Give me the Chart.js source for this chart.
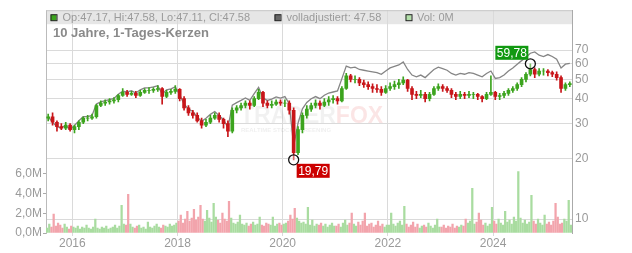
<!DOCTYPE html>
<html>
<head>
<meta charset="utf-8">
<script src="https://cdn.jsdelivr.net/npm/chart.js@4.4.1/dist/chart.umd.min.js"></script>
<style>
  html, body { margin: 0; padding: 0; background: #fff; }
  #wrap { width: 632px; height: 253px; }
</style>
</head>
<body>
<div id="wrap"><canvas id="chart" width="632" height="253"></canvas></div>
<script>
// monthly candles, Jul 2015 - Jun 2025
const startYear = 2015, startMonth = 7;
const opens = [
  32, 32.5, 30.5, 29, 28.5, 29.5,
  28, 29, 30.5, 32, 32, 32.5, 37, 38, 38.5, 39, 39.5, 41.5,
  43, 42, 42.5, 41.5, 43, 44, 44, 44.5, 45, 41, 43, 43.5,
  44.5, 40, 36, 34, 33, 31, 29.5, 30.5, 32, 33, 31.5, 30,
  27.5, 35, 36, 37, 38, 37, 40, 43, 38, 37, 37.5, 38.5,
  38, 38, 35, 21.5, 28, 33, 35.5, 37, 38, 37, 38.5, 39.5,
  40, 39, 45, 52, 50, 50, 48, 47, 46, 45, 44.5, 43,
  45, 46, 47, 48, 49.5, 45, 42, 41.5, 42, 40, 42, 45,
  46, 45, 44, 42, 41, 42, 41.5, 42, 42, 41, 40, 42,
  43, 41, 41.5, 42.5, 44, 45, 47, 50, 53, 56, 53, 55,
  55, 54, 53, 51, 45, 47
];
const highs = [
  33.5, 34, 31, 30, 30.5, 30,
  29.5, 31, 32.5, 33, 33.5, 37.5, 39, 39.5, 40, 40.5, 42, 45,
  44, 43.5, 43.5, 44, 45, 45.5, 45.5, 46.5, 45.5, 44, 44.5, 46.5,
  45, 41, 37, 35, 34, 32, 31.5, 33, 34, 34, 32, 31,
  36, 37, 38, 39, 39, 41, 44.5, 43.5, 39, 39, 39.5, 39.5,
  39.5, 39, 36, 29, 34, 37, 38, 39.5, 39, 40, 41, 41.5,
  41, 46, 53.5, 53, 52, 51, 49.5, 48.5, 47.5, 47, 46, 46.5,
  48, 49, 50, 51.5, 50, 46, 43.5, 44, 43, 43, 46, 47.5,
  47, 46, 45, 43, 43.5, 43, 43.5, 43, 42.5, 41.5, 43, 52,
  43.5, 42.5, 43.5, 45, 46, 48, 51, 54, 59.78, 57, 56.5, 56.5,
  56, 55, 54.5, 52, 48, 48.5
];
const lows = [
  31, 29.5, 27.5, 28, 28, 27.5,
  27, 28, 30, 31, 31.5, 32, 36.5, 37, 37.5, 38, 38.5, 41,
  41, 41.5, 40.5, 41, 42.5, 42.5, 43, 43.5, 37.5, 40.5, 42, 42.5,
  39, 35, 33, 32, 30.5, 28.5, 29, 30, 31.5, 30.5, 28.5, 25.8,
  27, 34, 35, 36, 35.5, 36.5, 39.5, 36.5, 36, 36, 37, 37,
  36.5, 33.5, 19.79, 21, 27, 32, 34.5, 36, 35.5, 36.5, 37, 38,
  37.5, 38.5, 44.5, 48.5, 48, 46.5, 45.5, 44.5, 43, 43, 41.5, 42.5,
  44, 44.5, 45, 47, 43.5, 39.5, 40, 40.5, 38.5, 39, 41.5, 44,
  43.5, 43, 40.5, 39.5, 40, 40, 40.5, 40, 39.5, 38.5, 39.5, 41.5,
  39.5, 39.5, 40.5, 41.5, 43, 44, 46, 48.5, 52, 51, 52, 52.5,
  52, 51.5, 49.5, 43, 44, 46
];
const closes = [
  32.5, 30.5, 29, 28.5, 29.5, 28,
  29, 30.5, 32, 32, 32.5, 37, 38, 38.5, 39, 39.5, 41.5, 43,
  42, 42.5, 41.5, 43, 44, 44, 44.5, 45, 41, 43, 43.5, 44.5,
  40, 36, 34, 33, 31, 29.5, 30.5, 32, 33, 31.5, 30, 27.5,
  35, 36, 37, 38, 37, 40, 43, 38, 37, 37.5, 38.5, 38,
  38, 35, 21.5, 28, 33, 35.5, 37, 38, 37, 38.5, 39.5, 40,
  39, 45, 52, 50, 50, 48, 47, 46, 45, 44.5, 43, 45,
  46, 47, 48, 49.5, 45, 42, 41.5, 42, 40, 42, 45, 46,
  45, 44, 42, 41, 42, 41.5, 42, 42, 41, 40, 42, 43,
  41, 41.5, 42.5, 44, 45, 47, 50, 53, 56, 53, 55, 55,
  54, 53, 51, 45, 47, 47.58
];
const adjusted = [
  32.5, 30.5, 29, 28.5, 29.5, 28,
  29.4, 31.0, 32.5, 32.5, 33.0, 37.6, 38.6, 39.1, 39.6, 40.1, 42.1, 43.6,
  43.3, 43.8, 42.7, 44.3, 45.3, 45.3, 45.8, 46.4, 42.2, 44.3, 44.8, 45.8,
  41.8, 37.6, 35.5, 34.5, 32.4, 30.8, 31.9, 33.4, 34.5, 32.9, 31.4, 28.7,
  37.1, 38.2, 39.2, 40.3, 39.2, 42.4, 45.6, 40.3, 39.2, 39.8, 40.8, 40.3,
  41.0, 37.8, 23.2, 30.2, 35.6, 38.3, 40.0, 41.0, 40.0, 41.6, 42.7, 43.2,
  43.7, 50.4, 58.2, 57.0, 57.5, 56.0, 55.5, 55.0, 54.5, 54.0, 53.0, 55.0,
  57.0, 58.0, 59.0, 61.0, 56.0, 52.5, 51.5, 52.5, 51.0, 53.5, 56.0, 57.5,
  56.5, 55.5, 53.5, 52.5, 53.5, 53.0, 54.0, 53.5, 52.5, 51.5, 53.5, 55.0,
  50.5, 51.0, 52.5, 55.0, 57.0, 59.5, 62.0, 64.5, 67.5, 68.5, 66.0, 65.0,
  66.5, 65.0, 63.0, 57.0, 59.5, 60.0
];
// volume in millions, two values per month
const volumes = [
  0.5, 0.9, 0.6, 1.9, 0.7, 1.0, 0.8, 0.5, 0.9, 0.6, 0.4, 0.7,
  0.6, 0.5, 0.7, 0.4, 0.6, 0.5, 0.8, 0.5, 0.4, 0.6, 1.4, 0.5, 0.4, 0.6, 0.5, 0.7, 0.4, 0.5, 0.6, 0.8, 0.5, 0.7, 2.8, 0.9,
  0.8, 3.9, 0.9, 0.6, 0.5, 0.7, 0.8, 0.5, 0.6, 0.4, 1.1, 0.6, 0.5, 0.7, 0.9, 0.6, 0.5, 0.8, 0.7, 0.6, 0.9, 0.7, 0.8, 1.0,
  1.2, 1.8, 1.0, 1.4, 2.2, 1.2, 1.5, 2.4, 1.3, 1.6, 2.8, 1.4, 1.2, 2.3, 1.5, 1.1, 3.0, 1.6, 1.3, 1.0, 2.0, 1.4, 1.2, 3.2,
  1.5, 1.0, 0.9, 1.1, 1.8, 0.9, 0.8, 1.0, 0.7, 0.9, 1.1, 0.8, 0.9, 1.6, 0.8, 0.7, 1.0, 0.9, 0.8, 1.6, 0.7, 0.9, 1.0, 0.8,
  0.9, 1.0, 1.2, 1.8, 1.4, 2.5, 1.5, 1.2, 1.0, 1.1, 0.9, 2.6, 0.8, 1.3, 0.7, 0.9, 0.8, 1.0, 0.7, 0.9, 0.6, 0.8, 1.0, 0.7,
  0.7, 0.9, 0.6, 1.0, 1.3, 0.8, 1.0, 2.0, 0.9, 0.7, 1.1, 0.8, 1.2, 2.0, 0.7, 0.9, 1.0, 0.6, 0.8, 1.2, 0.7, 0.9, 0.6, 0.8,
  0.8, 2.0, 0.9, 0.7, 1.0, 1.2, 0.8, 2.7, 0.9, 0.6, 0.8, 1.1, 0.6, 0.9, 0.5, 0.7, 0.8, 0.6, 1.0, 0.7, 0.5, 0.8, 1.4, 0.6,
  0.6, 0.8, 0.5, 0.7, 0.6, 0.9, 0.5, 0.7, 0.6, 0.8, 0.7, 1.4, 1.0, 1.2, 4.5, 0.9, 1.1, 2.0, 1.3, 0.8, 1.0, 0.7, 0.9, 2.6,
  1.2, 0.9, 1.4, 1.0, 0.8, 2.2, 1.1, 1.3, 0.9, 1.6, 1.2, 6.2, 1.5, 1.0, 1.3, 0.9, 1.1, 3.8, 1.2, 0.9, 1.4, 1.0, 0.8, 1.8,
  0.9, 1.1, 0.8, 1.2, 3.0, 1.6, 0.9, 1.0, 1.4, 1.2, 3.3, 0.8
];
const yearTicks = [2016, 2018, 2020, 2022, 2024];
const priceTicks = [10, 20, 30, 40, 50, 60, 70];
const volTicks = [0, 2, 4, 6];
const lastDay = { op: 47.17, hi: 47.58, lo: 47.11, cl: 47.58 };
const lastAdjusted = 47.58;
const lastVol = 0;

const GREEN = '#3ca41e', RED = '#c8161a';
const VOL_GREEN = '#a9dca0', VOL_RED = '#f2a4ac';
const FONT = '"Liberation Sans", Arial, sans-serif';

const monthX = i => startYear + (startMonth - 1 + i + 0.5) / 12;
const halfX = j => startYear + (startMonth - 1) / 12 + (j + 0.5) / 24;
const up = closes.map((c, i) => c >= opens[i]);

const wickData = closes.map((c, i) => ({ x: monthX(i), y: [lows[i], highs[i]] }));
const bodyData = closes.map((c, i) => ({ x: monthX(i), y: [opens[i], c] }));
const adjData = adjusted.map((v, i) => ({ x: monthX(i), y: v }));
const volData = volumes.map((v, j) => ({ x: halfX(j), y: v }));
const candleColors = up.map(u => u ? GREEN : RED);
const volColors = volumes.map((v, j) => up[Math.floor(j / 2)] ? VOL_GREEN : VOL_RED);

const minIdx = lows.indexOf(Math.min(...lows));
const maxIdx = highs.indexOf(Math.max(...highs));
const extremes = [
  { x: monthX(minIdx), y: lows[minIdx] },
  { x: monthX(maxIdx), y: highs[maxIdx] }
];

const fmt = v => v.toFixed(2).replace('.', ',');

const decor = {
  id: 'decor',
  beforeDraw(chart) {
    const { ctx, chartArea: a } = chart;
    ctx.save();
    ctx.fillStyle = '#e6e6e6';
    ctx.fillRect(a.left, a.top, a.right - a.left, 14);
    ctx.restore();
  },
  beforeDatasetsDraw(chart) {
    const { ctx } = chart;
    ctx.save();
    ctx.textBaseline = 'alphabetic';
    ctx.font = 'bold 23px ' + FONT;
    ctx.fillStyle = 'rgba(0,0,0,0.055)';
    ctx.fillText('TRADER', 240, 123);
    const w = ctx.measureText('TRADER').width;
    ctx.fillStyle = 'rgba(220,40,40,0.12)';
    ctx.fillText('FOX', 240 + w, 123);
    ctx.font = 'bold 6px ' + FONT;
    ctx.fillStyle = 'rgba(0,0,0,0.07)';
    ctx.fillText('REALTIME STOCK SCREENING', 241, 132);
    ctx.restore();
  },
  afterDraw(chart) {
    const { ctx, chartArea: a, scales } = chart;
    ctx.save();
    // top frame line
    ctx.strokeStyle = '#c8c8c8';
    ctx.lineWidth = 1;
    ctx.beginPath();
    ctx.moveTo(a.left, a.top + 0.5);
    ctx.lineTo(a.right, a.top + 0.5);
    ctx.stroke();

    // legend row
    const sq = (x, fill) => {
      ctx.fillStyle = fill;
      ctx.fillRect(x, a.top + 4.5, 6, 6);
      ctx.strokeStyle = '#222';
      ctx.strokeRect(x + 0.5, a.top + 4.5, 6, 6);
    };
    ctx.font = '11px ' + FONT;
    ctx.textBaseline = 'middle';
    ctx.fillStyle = '#9a9a9a';
    sq(50.5, GREEN);
    ctx.fillStyle = '#9a9a9a';
    ctx.fillText('Op:' + lastDay.op.toFixed(2) + ', Hi:' + lastDay.hi.toFixed(2) +
      ', Lo:' + lastDay.lo.toFixed(2) + ', Cl:' + lastDay.cl.toFixed(2), 62.5, a.top + 8);
    sq(274.5, '#666');
    ctx.fillStyle = '#9a9a9a';
    ctx.fillText('volladjustiert: ' + lastAdjusted.toFixed(2), 286.5, a.top + 8);
    sq(405.5, '#b3e0aa');
    ctx.fillStyle = '#9a9a9a';
    ctx.fillText('Vol: ' + lastVol + 'M', 417, a.top + 8);

    // title
    ctx.font = 'bold 13px ' + FONT;
    ctx.fillStyle = '#8a8a8a';
    ctx.textBaseline = 'alphabetic';
    ctx.fillText('10 Jahre, 1-Tages-Kerzen', 53, 37);

    // extreme value tags
    ctx.font = '12px ' + FONT;
    ctx.textBaseline = 'middle';
    ctx.textAlign = 'center';
    const lo = extremes[0], hi = extremes[1];
    let px = scales.x.getPixelForValue(lo.x), py = scales.y.getPixelForValue(lo.y);
    ctx.fillStyle = '#cc0000';
    ctx.fillRect(px + 3, py + 4, 33, 14);
    ctx.fillStyle = '#fff';
    ctx.fillText(fmt(lo.y), px + 19.5, py + 11.5);
    px = scales.x.getPixelForValue(hi.x); py = scales.y.getPixelForValue(hi.y);
    ctx.fillStyle = '#119911';
    ctx.fillRect(px - 35, py - 18, 33, 14);
    ctx.fillStyle = '#fff';
    ctx.fillText(fmt(hi.y), px - 18.5, py - 10.5);
    ctx.restore();
  }
};

const ctx = document.getElementById('chart').getContext('2d');
new Chart(ctx, {
  type: 'bar',
  data: {
    datasets: [
      {
        type: 'line',
        data: extremes,
        showLine: false,
        pointRadius: 5,
        pointBorderWidth: 1.3,
        pointBorderColor: '#111',
        pointBackgroundColor: 'rgba(255,255,255,0.35)',
        order: 1
      },
      {
        data: bodyData,
        backgroundColor: candleColors,
        barThickness: 3,
        grouped: false,
        order: 2
      },
      {
        data: wickData,
        backgroundColor: candleColors,
        barThickness: 1,
        grouped: false,
        order: 3
      },
      {
        type: 'line',
        data: adjData,
        borderColor: '#858585',
        borderWidth: 1.3,
        pointRadius: 0,
        tension: 0,
        order: 4
      },
      {
        data: volData,
        yAxisID: 'yv',
        backgroundColor: volColors,
        barThickness: 1.6,
        grouped: false,
        order: 5
      }
    ]
  },
  options: {
    responsive: false,
    animation: false,
    layout: { padding: { top: 8, left: 0, right: 0, bottom: 0 } },
    plugins: {
      legend: { display: false },
      tooltip: { enabled: false }
    },
    scales: {
      x: {
        type: 'linear',
        min: 2015.5,
        max: 2025.5,
        offset: false,
        bounds: 'data',
        afterBuildTicks: s => { s.ticks = yearTicks.map(v => ({ value: v })); },
        afterFit: s => { s.height = 20; },
        grid: { color: '#dadada', offset: false, tickLength: 3 },
        border: { display: false },
        ticks: {
          color: '#9a9a9a',
          font: { size: 12, family: FONT },
          padding: 0,
          maxRotation: 0,
          autoSkip: false,
          callback: v => String(v)
        }
      },
      y: {
        type: 'logarithmic',
        position: 'right',
        min: 8.52,
        max: 110.8,
        bounds: 'data',
        afterBuildTicks: s => { s.ticks = priceTicks.map(v => ({ value: v })); },
        afterFit: s => { s.width = 60; },
        grid: { color: '#dadada', drawTicks: false },
        border: { color: '#aaaaaa' },
        ticks: {
          color: '#9a9a9a',
          font: { size: 12, family: FONT },
          padding: 3,
          autoSkip: false,
          callback: v => String(v)
        }
      },
      yv: {
        type: 'linear',
        position: 'left',
        min: 0,
        max: 22.5,
        bounds: 'data',
        afterBuildTicks: s => { s.ticks = volTicks.map(v => ({ value: v })); },
        afterFit: s => { s.width = 46; },
        grid: { drawOnChartArea: false, tickLength: 3, color: '#aaaaaa' },
        border: { color: '#bbbbbb' },
        ticks: {
          color: '#9a9a9a',
          font: { size: 12, family: FONT },
          padding: 1,
          autoSkip: false,
          callback: v => v.toFixed(1).replace('.', ',') + 'M'
        }
      }
    }
  },
  plugins: [decor]
});
</script>
</body>
</html>
